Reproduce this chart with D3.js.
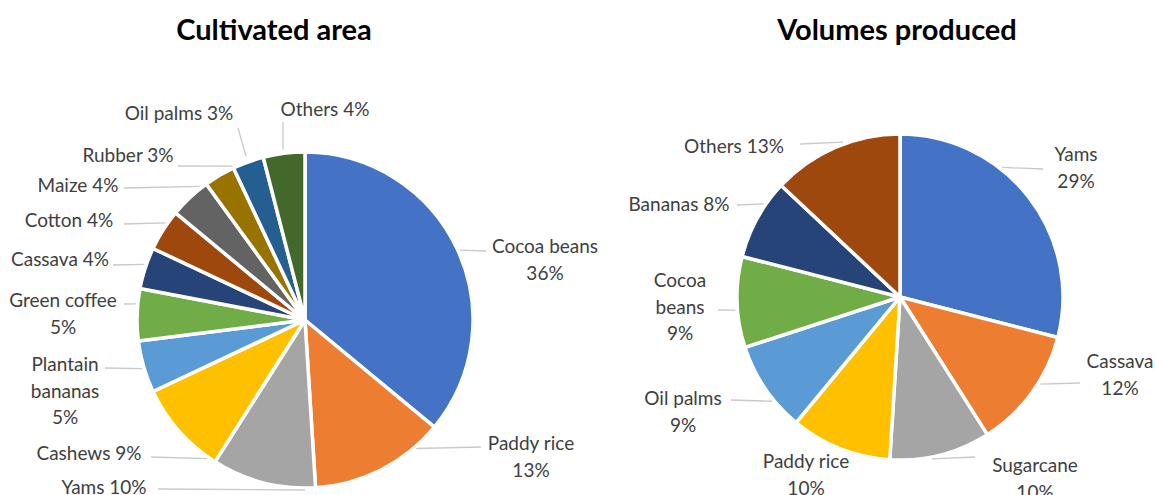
<!DOCTYPE html>
<html>
<head>
<meta charset="utf-8">
<script src="https://cdn.jsdelivr.net/npm/d3@7"></script>
<style>
  html, body { margin: 0; padding: 0; background: #fff; }
  svg { display: block; }
  text { font-family: Lato, "Open Sans", sans-serif; }
</style>
</head>
<body>
<svg id="chart" width="1155" height="495"></svg>
<script>
// ---- data -------------------------------------------------------------
const areaCrops  = ["Cocoa beans", "Paddy rice", "Yams", "Cashews", "Plantain bananas", "Green coffee",
                    "Cassava", "Cotton", "Maize", "Rubber", "Oil palms", "Others"];
const areaShares = [36, 13, 10, 9, 5, 5, 4, 4, 4, 3, 3, 4];

const volumeCrops  = ["Yams", "Cassava", "Sugarcane", "Paddy rice", "Oil palms", "Cocoa beans", "Bananas", "Others"];
const volumeShares = [29, 12, 10, 10, 9, 9, 8, 13];

const chartTitles = ["Cultivated area", "Volumes produced"];

// ---- styling / layout -------------------------------------------------
const palette = ["#4472C4", "#ED7D31", "#A5A5A5", "#FFC000", "#5B9BD5", "#70AD47",
                 "#264478", "#9E480E", "#636363", "#997300", "#255E91", "#43682B"];

// Label text blocks: lines, centre x, first-line y, and where the leader starts.
// mode "h": horizontal leader to the slice edge, "v": vertical, "mid": toward the slice middle.
const areaLabels = [
  { lines: ["Cocoa beans", "36%"], x: 545, y: 248, lx: 486, ly: 251, mode: "h" },
  { lines: ["Paddy rice", "13%"],  x: 531, y: 445, lx: 481, ly: 447, mode: "h" },
  { lines: ["Yams 10%"],           x: 104, y: 489, lx: 158, ly: 489, mode: "h" },
  { lines: ["Cashews 9%"],         x: 89,  y: 455, lx: 151, ly: 457, mode: "h" },
  { lines: ["Plantain", "bananas", "5%"], x: 65, y: 366, lx: 105, ly: 368, mode: "h" },
  { lines: ["Green coffee", "5%"], x: 63,  y: 302, lx: 124, ly: 304, mode: "h" },
  { lines: ["Cassava 4%"],         x: 60,  y: 261, lx: 113, ly: 265, mode: "h" },
  { lines: ["Cotton 4%"],          x: 69,  y: 222, lx: 124, ly: 224, mode: "h" },
  { lines: ["Maize 4%"],           x: 78,  y: 187, lx: 124, ly: 188, mode: "h" },
  { lines: ["Rubber 3%"],          x: 128, y: 157, lx: 178, ly: 166, mode: "h" },
  { lines: ["Oil palms 3%"],       x: 179, y: 115, lx: 238, ly: 128, mode: "mid" },
  { lines: ["Others 4%"],          x: 325, y: 111, lx: 283, ly: 122, mode: "v" }
];

const volumeLabels = [
  { lines: ["Yams", "29%"],        x: 1076, y: 156, lx: 1043, ly: 169, mode: "h" },
  { lines: ["Cassava", "12%"],     x: 1120, y: 363, lx: 1080, ly: 383, mode: "h" },
  { lines: ["Sugarcane", "10%"],   x: 1035, y: 467, lx: 975,  ly: 457, mode: "h" },
  { lines: ["Paddy rice", "10%"],  x: 806,  y: 463, lx: null, ly: null, mode: "none" },
  { lines: ["Oil palms", "9%"],    x: 683,  y: 400, lx: 731,  ly: 400, mode: "h" },
  { lines: ["Cocoa", "beans", "9%"], x: 680, y: 282, lx: 718, ly: 310, mode: "h" },
  { lines: ["Bananas 8%"],         x: 679,  y: 206, lx: 737,  ly: 205, mode: "h" },
  { lines: ["Others 13%"],         x: 734,  y: 148, lx: 800,  ly: 144, mode: "h" }
];

const charts = [
  { title: chartTitles[0], titleX: 274, names: areaCrops, values: areaShares,
    cx: 305, cy: 320, r: 168, labels: areaLabels },
  { title: chartTitles[1], titleX: 897, names: volumeCrops, values: volumeShares,
    cx: 900, cy: 297, r: 163, labels: volumeLabels }
];

const svg = d3.select("#chart");
const lineHeight = 26.5;

const pie = d3.pie().sort(null).value(d => d);

charts.forEach(c => {
  svg.append("text")
    .attr("x", c.titleX).attr("y", 40)
    .attr("text-anchor", "middle")
    .attr("font-size", 29).attr("font-weight", 700)
    .attr("fill", "#000")
    .text(c.title);

  const g = svg.append("g").attr("transform", `translate(${c.cx},${c.cy})`);
  const arcs = pie(c.values);
  const arc = d3.arc().innerRadius(0).outerRadius(c.r);

  // leader lines (drawn first so slices sit on top)
  const lines = svg.append("g");
  arcs.forEach((a, i) => {
    const lab = c.labels[i];
    if (lab.mode === "none") return;
    const polar = (ang, rad) => [c.cx + rad * Math.sin(ang), c.cy - rad * Math.cos(ang)];
    let end;
    if (lab.mode === "mid") {
      end = polar((a.startAngle + a.endAngle) / 2, c.r + 6);
    } else if (lab.mode === "v") {
      const dx = lab.lx - c.cx;
      end = [lab.lx, c.cy - Math.sqrt(c.r * c.r - dx * dx) - 4];
    } else {
      const dy = lab.ly - c.cy;
      const left = lab.lx < c.cx;
      let ang;
      if (Math.abs(dy) >= c.r) ang = dy > 0 ? Math.PI : 0;
      else {
        const base = Math.acos(-dy / c.r);          // angle from top, right side
        ang = left ? 2 * Math.PI - base : base;
      }
      ang = Math.max(a.startAngle, Math.min(a.endAngle, ang));
      end = polar(ang, c.r + 2);
    }
    lines.append("line")
      .attr("x1", lab.lx).attr("y1", lab.ly)
      .attr("x2", end[0]).attr("y2", end[1])
      .attr("stroke", "#C9C9C9").attr("stroke-width", 1.3);
  });

  g.selectAll("path")
    .data(arcs)
    .join("path")
    .attr("d", arc)
    .attr("fill", (d, i) => palette[i % palette.length])
    .attr("stroke", "#fff")
    .attr("stroke-width", 3.5)
    .attr("stroke-linejoin", "round");

  // data labels
  c.labels.forEach((lab, i) => {
    const t = svg.append("text")
      .attr("text-anchor", "middle")
      .attr("font-size", 19)
      .attr("fill", "#404040")
      .attr("dominant-baseline", "middle");
    lab.lines.forEach((ln, k) => {
      t.append("tspan").attr("x", lab.x).attr("y", lab.y + k * lineHeight).text(ln);
    });
  });
});
</script>
</body>
</html>
